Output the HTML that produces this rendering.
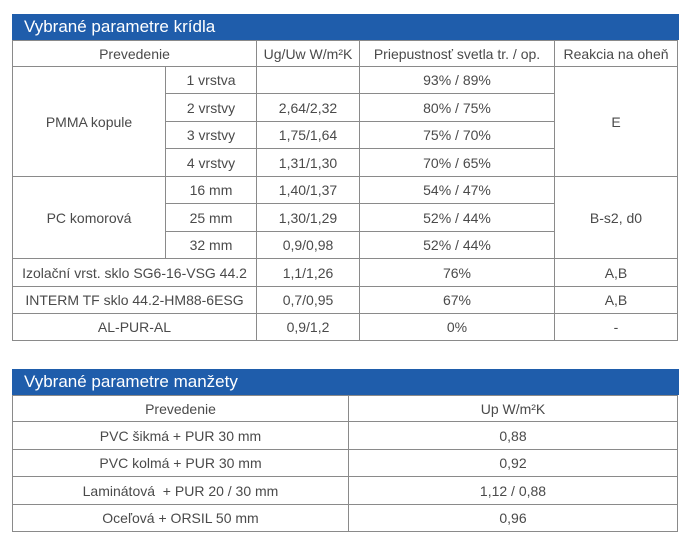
<!DOCTYPE html>
<html><head><meta charset="utf-8"><style>
body{margin:0;width:696px;height:549px;background:#fff;position:relative;font-family:"Liberation Sans",sans-serif;overflow:hidden}
.bar{position:absolute;background:#1f5dab;color:#fff;font-size:17px;line-height:26px;padding-left:12px;box-sizing:border-box}
.c{position:absolute;border:1px solid #8a8a8a;box-sizing:border-box;display:flex;align-items:center;justify-content:center;font-size:14px;color:#4a4a4a;white-space:nowrap;margin:-1px 0 0 -1px}
</style></head><body>
<div class="bar" style="left:12px;top:14px;width:667px;height:26px">Vybrané parametre krídla</div>
<div>
<div class="c" style="left:13px;top:41px;width:245px;height:27px">Prevedenie</div>
<div class="c" style="left:257px;top:41px;width:104px;height:27px">Ug/Uw W/m²K</div>
<div class="c" style="left:360px;top:41px;width:196px;height:27px">Priepustnosť svetla tr. / op.</div>
<div class="c" style="left:555px;top:41px;width:124px;height:27px">Reakcia na oheň</div>

<div class="c" style="left:13px;top:67px;width:154px;height:111px">PMMA kopule</div>
<div class="c" style="left:166px;top:67px;width:92px;height:28px">1 vrstva</div>
<div class="c" style="left:257px;top:67px;width:104px;height:28px"></div>
<div class="c" style="left:360px;top:67px;width:196px;height:28px">93% / 89%</div>
<div class="c" style="left:166px;top:94px;width:92px;height:29px">2 vrstvy</div>
<div class="c" style="left:257px;top:94px;width:104px;height:29px">2,64/2,32</div>
<div class="c" style="left:360px;top:94px;width:196px;height:29px">80% / 75%</div>
<div class="c" style="left:166px;top:122px;width:92px;height:28px">3 vrstvy</div>
<div class="c" style="left:257px;top:122px;width:104px;height:28px">1,75/1,64</div>
<div class="c" style="left:360px;top:122px;width:196px;height:28px">75% / 70%</div>
<div class="c" style="left:166px;top:149px;width:92px;height:29px">4 vrstvy</div>
<div class="c" style="left:257px;top:149px;width:104px;height:29px">1,31/1,30</div>
<div class="c" style="left:360px;top:149px;width:196px;height:29px">70% / 65%</div>
<div class="c" style="left:555px;top:67px;width:124px;height:111px">E</div>

<div class="c" style="left:13px;top:177px;width:154px;height:83px">PC komorová</div>
<div class="c" style="left:166px;top:177px;width:92px;height:28px">16 mm</div>
<div class="c" style="left:257px;top:177px;width:104px;height:28px">1,40/1,37</div>
<div class="c" style="left:360px;top:177px;width:196px;height:28px">54% / 47%</div>
<div class="c" style="left:166px;top:204px;width:92px;height:29px">25 mm</div>
<div class="c" style="left:257px;top:204px;width:104px;height:29px">1,30/1,29</div>
<div class="c" style="left:360px;top:204px;width:196px;height:29px">52% / 44%</div>
<div class="c" style="left:166px;top:232px;width:92px;height:28px">32 mm</div>
<div class="c" style="left:257px;top:232px;width:104px;height:28px">0,9/0,98</div>
<div class="c" style="left:360px;top:232px;width:196px;height:28px">52% / 44%</div>
<div class="c" style="left:555px;top:177px;width:124px;height:83px">B-s2, d0</div>

<div class="c" style="left:13px;top:259px;width:245px;height:29px">Izolační vrst. sklo SG6-16-VSG 44.2</div>
<div class="c" style="left:257px;top:259px;width:104px;height:29px">1,1/1,26</div>
<div class="c" style="left:360px;top:259px;width:196px;height:29px">76%</div>
<div class="c" style="left:555px;top:259px;width:124px;height:29px">A,B</div>

<div class="c" style="left:13px;top:287px;width:245px;height:28px">INTERM TF sklo 44.2-HM88-6ESG</div>
<div class="c" style="left:257px;top:287px;width:104px;height:28px">0,7/0,95</div>
<div class="c" style="left:360px;top:287px;width:196px;height:28px">67%</div>
<div class="c" style="left:555px;top:287px;width:124px;height:28px">A,B</div>

<div class="c" style="left:13px;top:314px;width:245px;height:28px">AL-PUR-AL</div>
<div class="c" style="left:257px;top:314px;width:104px;height:28px">0,9/1,2</div>
<div class="c" style="left:360px;top:314px;width:196px;height:28px">0%</div>
<div class="c" style="left:555px;top:314px;width:124px;height:28px">-</div>
</div>

<div class="bar" style="left:12px;top:369px;width:667px;height:26px">Vybrané parametre manžety</div>
<div>
<div class="c" style="left:13px;top:396px;width:337px;height:27px">Prevedenie</div>
<div class="c" style="left:349px;top:396px;width:330px;height:27px">Up W/m²K</div>
<div class="c" style="left:13px;top:422px;width:337px;height:29px">PVC šikmá + PUR 30 mm</div>
<div class="c" style="left:349px;top:422px;width:330px;height:29px">0,88</div>
<div class="c" style="left:13px;top:450px;width:337px;height:28px">PVC kolmá + PUR 30 mm</div>
<div class="c" style="left:349px;top:450px;width:330px;height:28px">0,92</div>
<div class="c" style="left:13px;top:477px;width:337px;height:29px">Laminátová&nbsp; + PUR 20 / 30 mm</div>
<div class="c" style="left:349px;top:477px;width:330px;height:29px">1,12 / 0,88</div>
<div class="c" style="left:13px;top:505px;width:337px;height:28px">Oceľová + ORSIL 50 mm</div>
<div class="c" style="left:349px;top:505px;width:330px;height:28px">0,96</div>
</div>
</body></html>
